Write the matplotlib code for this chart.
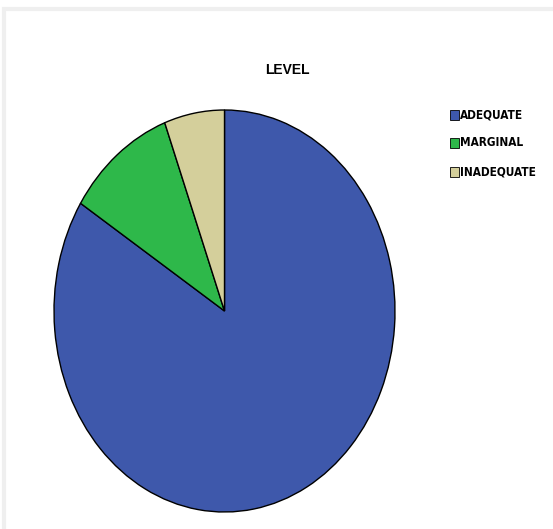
import matplotlib.pyplot as plt
from matplotlib.patches import Rectangle

# Pie data (percent of cases)
labels = ['ADEQUATE', 'MARGINAL', 'INADEQUATE']
values = [84.0, 10.3, 5.7]
colors = ['#3e58ab', '#2eb84a', '#d4cf9b']

W, H = 553, 529
fig = plt.figure(figsize=(W / 100, H / 100), dpi=100)
fig.patch.set_facecolor('white')

# light grey outer frame, running off the right and bottom edges
fig.patches.append(Rectangle((3.5 / W, -0.1), 1.2, 1.1 - 9 / H,
                             transform=fig.transFigure, fill=False,
                             edgecolor='#efefef', linewidth=3))

# pie axes: ellipse spans x 54..395, y 110..512
ax = fig.add_axes([54 / W, (H - 512) / H, 341 / W, 402 / H])
wedges, _ = ax.pie(values, colors=colors, startangle=90, counterclock=False,
                   wedgeprops=dict(edgecolor='black', linewidth=1.0))
ax.set_aspect('auto')
ax.set_xlim(-1, 1)
ax.set_ylim(-1, 1)
ax.axis('off')

fig.text(287 / W, 1 - 70 / H, 'LEVEL', ha='center', va='center',
         fontsize=10, fontweight='bold', family=['Liberation Sans', 'DejaVu Sans'])

# legend drawn by hand
rows_y = [115, 143, 172]
for w, lab, y in zip(wedges, labels, rows_y):
    fig.patches.append(Rectangle((450 / W, 1 - (y + 4.5) / H), 8.5 / W, 9 / H,
                                 transform=fig.transFigure,
                                 facecolor=w.get_facecolor(), edgecolor='black',
                                 linewidth=0.6))
    fig.text(460 / W, 1 - y / H, lab, ha='left', va='center', fontsize=8.5,
             fontweight='bold', fontstretch='condensed', family='DejaVu Sans')

fig.savefig('out.png', dpi=100)
